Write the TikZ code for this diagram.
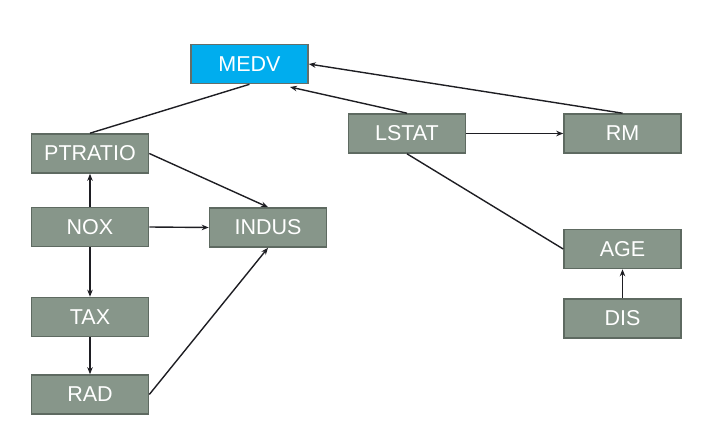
\documentclass[tikz,border=0pt]{standalone}
\usepackage{fontspec}
\setmainfont{Liberation Sans}
\usetikzlibrary{arrows.meta}
\definecolor{boxfill}{RGB}{135,150,138}
\definecolor{boxline}{RGB}{94,106,97}
\definecolor{medvfill}{RGB}{0,173,238}
\definecolor{medvline}{RGB}{100,110,105}
\definecolor{edgecol}{RGB}{30,30,35}
\begin{document}
\begin{tikzpicture}[x=1pt,y=-1pt,
  varbox/.style={draw=boxline,fill=boxfill,line width=1.6pt,minimum width=117pt,minimum height=39pt,inner sep=0pt,text=white,font=\fontsize{21.5}{25}\selectfont},
  medvbox/.style={varbox,draw=medvline,fill=medvfill},
  link/.style={draw=edgecol,line width=1.4pt},
  arr/.style={link,-{Stealth[length=7pt,width=5.5pt]}}]
\useasboundingbox (0,0) rectangle (705,433);
\node[medvbox] (medv) at (249.5,64) {MEDV};
\node[varbox] (ptratio) at (90,153.5) {PTRATIO};
\node[varbox] (nox) at (90,227) {NOX};
\node[varbox] (indus) at (268,227.5) {INDUS};
\node[varbox] (tax) at (90,317) {TAX};
\node[varbox] (rad) at (90,394.5) {RAD};
\node[varbox] (lstat) at (407,133.5) {LSTAT};
\node[varbox] (rm) at (622.5,133.5) {RM};
\node[varbox] (age) at (622.5,249) {AGE};
\node[varbox] (dis) at (622.5,318.5) {DIS};
\coordinate (medvin) at (290,87);
\draw[link] (ptratio.north) -- (medv.south);
\draw[arr] (lstat.north) -- (medvin);
\draw[arr] (rm.north) -- (medv.east);
\draw[arr] (ptratio.east) -- (indus.north);
\draw[arr] (nox.north) -- (ptratio.south);
\draw[arr] (nox.east) -- (indus.west);
\draw[arr] (nox.south) -- (tax.north);
\draw[arr] (tax.south) -- (rad.north);
\draw[arr] (rad.east) -- (indus.south);
\draw[arr] (lstat.east) -- (rm.west);
\draw[link] (lstat.south) -- (age.west);
\draw[arr] (dis.north) -- (age.south);
\end{tikzpicture}
\end{document}
